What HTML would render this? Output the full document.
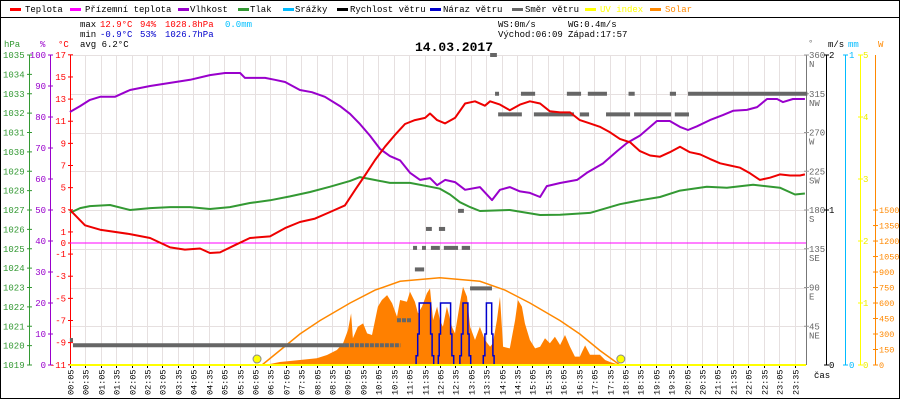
<!DOCTYPE html>
<html><head><meta charset="utf-8"><style>
body{margin:0;background:#fff}
svg{display:block;font-family:"Liberation Mono","DejaVu Sans Mono",monospace}
</style></head><body>
<svg id="chart" width="900" height="400" viewBox="0 0 900 400" xmlns="http://www.w3.org/2000/svg">
<rect x="0.5" y="0.5" width="899" height="398" fill="#fff" stroke="#000"/>
<line x1="0" y1="17.5" x2="900" y2="17.5" stroke="#000"/>
<g id="grid"></g>
<g id="legend" font-size="9"></g>
<g font-size="9">
<text x="80" y="27">max</text>
<text x="100" y="27" fill="#f00">12.9°C</text>
<text x="140" y="27" fill="#f00">94%</text>
<text x="165" y="27" fill="#f00">1028.8hPa</text>
<text x="225" y="27" fill="#00bfff">0.0mm</text>
<text x="80" y="37">min</text>
<text x="100" y="37" fill="#00c">-0.9°C</text>
<text x="140" y="37" fill="#00c">53%</text>
<text x="165" y="37" fill="#00c">1026.7hPa</text>
<text x="80" y="47">avg  6.2°C</text>
<text x="498" y="27">WS:0m/s</text>
<text x="568" y="27">WG:0.4m/s</text>
<text x="498" y="37">Východ:06:09</text>
<text x="568" y="37">Západ:17:57</text>
</g>
<text x="415" y="51" font-size="13" font-weight="bold">14.03.2017</text>
<g id="axes" font-size="9"></g>
<g id="series"></g>
</svg>
<script>
const tempTimes=[0.08,0.57,1.06,2.03,2.68,3.33,3.81,4.30,4.62,4.95,5.43,5.92,6.57,7.06,7.54,8.03,8.52,9.00,9.33,9.65,9.98,10.30,10.62,10.95,11.27,11.60,11.76,11.99,12.25,12.57,12.90,13.22,13.54,13.71,14.03,14.35,14.68,15.00,15.33,15.65,15.98,16.30,16.62,16.95,17.27,17.60,17.92,18.25,18.57,18.90,19.22,19.54,19.87,20.19,20.52,20.84,21.17,21.49,21.82,22.14,22.46,22.79,23.11,23.44,23.76,23.92];
const tempVals=[3.0,1.6,1.2,0.8,0.45,-0.4,-0.6,-0.5,-0.9,-0.85,-0.2,0.45,0.6,1.35,1.9,2.2,2.8,3.4,4.8,6.1,7.5,8.7,9.75,10.75,11.1,11.3,11.7,11.1,10.8,11.3,12.6,12.8,12.4,12.8,12.5,12.0,12.5,12.8,12.6,11.9,11.8,11.8,11.1,10.8,10.5,10.0,9.4,9.1,8.3,7.9,7.8,8.2,8.7,8.2,8.0,7.6,7.2,7.0,6.8,6.3,5.7,5.9,6.2,6.1,6.1,6.2];
const humTimes=[0.08,0.41,0.73,1.06,1.54,2.03,2.68,3.33,3.98,4.62,5.11,5.60,5.76,6.41,6.73,7.06,7.54,7.93,8.35,8.84,9.17,9.49,9.81,10.14,10.46,10.79,11.11,11.44,11.76,11.99,12.25,12.57,12.90,13.38,13.77,14.03,14.35,14.68,15.00,15.33,15.55,15.98,16.53,16.85,17.37,17.83,18.15,18.57,18.90,19.12,19.54,19.87,20.13,20.42,20.84,21.26,21.59,22.04,22.37,22.69,23.02,23.21,23.53,23.92];
const humVals=[81.6,83.5,85.5,86.5,86.5,88.7,90,91,92,93.5,94.2,94.2,92.6,92.6,92,91.3,88.7,88,86.5,83.5,81,77.7,74,69.7,67.4,66,62,59.7,60.3,58,59.7,59,56.5,57.4,53.2,56.5,57.4,56,55.5,54.2,57.7,58.7,59.7,62,65,69,71.6,74,76.8,78.7,78.7,76.8,75.8,77,79,80.6,82,82.3,83.2,85.8,85.8,84.8,85.8,85.8];
const pressTimes=[0.08,0.41,0.73,1.38,2.03,2.68,3.33,3.98,4.62,5.27,5.92,6.57,7.22,7.87,8.52,9.17,9.49,9.81,10.46,11.11,11.76,12.08,12.41,12.73,13.06,13.38,14.35,15.33,15.98,16.95,17.92,18.57,19.22,19.87,20.74,21.39,22.24,23.11,23.60,23.92];
const pressVals=[1026.85,1027.1,1027.2,1027.26,1027.0,1027.1,1027.15,1027.15,1027.05,1027.15,1027.36,1027.5,1027.7,1027.93,1028.2,1028.5,1028.7,1028.6,1028.4,1028.4,1028.2,1028.1,1027.8,1027.4,1027.15,1026.95,1027.0,1026.74,1026.76,1026.85,1027.3,1027.5,1027.67,1028.0,1028.2,1028.15,1028.3,1028.15,1027.8,1027.85];
const solarTimes=[6.31,6.57,6.89,7.22,7.54,8.09,8.42,8.74,8.94,9.10,9.20,9.26,9.42,9.59,9.72,9.88,10.07,10.20,10.37,10.53,10.69,10.79,11.01,11.11,11.27,11.37,11.50,11.66,11.76,11.86,11.99,12.08,12.18,12.31,12.47,12.57,12.73,12.83,12.96,13.06,13.22,13.38,13.54,13.71,13.80,13.93,14.03,14.13,14.35,14.52,14.61,14.74,14.84,15.00,15.17,15.33,15.49,15.65,15.81,15.98,16.14,16.30,16.46,16.62,16.79,16.95,17.27,17.44,17.60,17.92];
const solarVals=[0,10,29,39,48,65,97,145,210,339,500,258,371,403,306,290,565,629,677,597,468,629,613,710,613,500,565,694,742,435,565,435,371,565,371,306,597,758,661,371,242,371,242,177,210,435,661,177,161,435,629,565,403,242,161,177,258,210,274,194,290,177,81,81,190,100,100,48,29,0];
const clearSkyTimes=[6.31,6.89,7.54,8.19,9.17,9.98,10.79,12.08,13.38,14.19,15.00,15.98,16.62,17.27,17.92];
const clearSkyVals=[0,140,300,430,600,725,810,845,810,725,600,430,300,140,0];
const gustTimes=[11.28,11.31,11.36,11.41,11.78,11.83,11.88,11.99,12.03,12.06,12.10,12.43,12.47,12.53,12.55,12.70,12.73,12.78,12.83,12.99,13.03,13.08,13.10,13.46,13.49,13.54,13.59,13.76,13.80,13.84,13.87];
const gustVals=[0,0.06,0.2,0.4,0.2,0.06,0,0,0.06,0.2,0.4,0.2,0.06,0,0,0,0.06,0.2,0.4,0.2,0.06,0,0,0,0.06,0.2,0.4,0.2,0.06,0,0];
const windStart=[0.08,0.18,9.00,10.69,11.27,11.21,11.50,11.79,12.21,12.79,11.63,12.05,12.67,13.06,13.71,13.87,14.71,16.20,16.88,18.20,19.54,20.13,13.97,15.13,16.62,17.47,18.38,19.70];
const windEnd=[0.18,9.00,10.80,11.17,11.57,11.34,11.63,12.08,12.67,13.06,11.82,12.25,12.86,13.77,13.93,14.00,15.17,16.66,17.50,18.40,19.74,24.00,14.74,16.43,16.92,18.25,19.58,20.16];
const windDeg=[29,23,23,52,111,136,136,136,136,136,158,158,179,89,360,315,315,315,315,315,315,315,291,291,291,291,291,291];
const windDashed=[0,0,1,1,0,0,0,0,0,0,0,0,0,0,0,0,0,0,0,0,0,0,0,0,0,0,0,0];
const timeLabels=["00:05","00:35","01:05","01:35","02:05","02:35","03:05","03:35","04:05","04:35","05:05","05:35","06:05","06:35","07:05","07:35","08:05","08:35","09:05","09:35","10:05","10:35","11:05","11:35","12:05","12:35","13:05","13:35","14:05","14:35","15:05","15:35","16:05","16:35","17:05","17:35","18:05","18:35","19:05","19:35","20:05","20:35","21:05","21:35","22:05","22:35","23:05","23:35"];
const hpaTicks=[1035,1034,1033,1032,1031,1030,1029,1028,1027,1026,1025,1024,1023,1022,1021,1020,1019];
const humTicks=[100,90,80,70,60,50,40,30,20,10,0];
const tempTicks=[17,15,13,11,9,7,5,3,1,0,-1,-3,-5,-7,-9,-11];
const dirTicks=[360,315,270,225,180,135,90,45];
const dirNames=["N","NW","W","SW","S","SE","E","NE"];
const msTicks=[2,1,0];
const mmTicks=[1,0];
const uvTicks=[5,4,3,2,1,0];
const wTicks=[1500,1350,1200,1050,900,750,600,450,300,150,0];
const sunEvents=[6.15,17.95];

const NS='http://www.w3.org/2000/svg';
const X0=70,X1=806,Y0=55,Y1=365;
const xH=h=>X0+(h-5/60)*30.83;
const yT=c=>243-c*11.07;
const yHum=p=>Y1-p*3.1;
const yP=v=>Y1-(v-1019)*19.375;
const ySol=w=>Y1-w*0.1033;
const yDir=d=>Y1-d*0.8611;
const yMs=m=>Y1-m*155;
const yMm=m=>Y1-m*310;
const yUv=u=>Y1-u*62;
function el(tag,attrs,parent,txt){const e=document.createElementNS(NS,tag);for(const k in attrs)e.setAttribute(k,attrs[k]);if(txt!==undefined)e.textContent=txt;parent.appendChild(e);return e;}
const grid=document.getElementById('grid'),axes=document.getElementById('axes'),series=document.getElementById('series'),legend=document.getElementById('legend');

// grid
timeLabels.forEach((t,i)=>{const h=parseInt(t)+parseInt(t.slice(3))/60;const x=Math.round(xH(h))+0.5;
const l=el('line',{x1:x,y1:Y0,x2:x,y2:Y1,stroke:'#e6e0e0'},grid);


const tk=el('line',{x1:x,y1:Y1,x2:x,y2:Y1+3,stroke:'#000'},axes);


const tx=el('text',{x:0,y:0,transform:`translate(${x+3},395) rotate(-90)`,'font-size':'8.5'},axes,t);


});
dirTicks.forEach(d=>{const y=Math.round(yDir(d))+0.5;const l=el('line',{x1:X0,y1:y,x2:X1,y2:y,stroke:'#e6e0e0'},grid);

});

// legend
const leg=[["Teplota","#f00",10,25],["Přízemní teplota","#f0f",70,85],["Vlhkost","#90c",178,190],["Tlak","#393",238,250],["Srážky","#0bf",283,295],["Rychlost větru","#000",337,350],["Náraz větru","#00c",430,443],["Směr větru","#666",512,525],["UV index","#ff0",585,600],["Solar","#f80",650,665]];
leg.forEach(([n,c,dx,tx])=>{const g=el('g',{},legend);


el('rect',{x:dx,y:8,width:11,height:3,fill:c},g);
el('text',{x:tx,y:12,fill:(c=="#f80"||c=="#ff0")?c:'#000'},g,n);});

// left axes
function axisLine(x,c,name){const l=el('line',{x1:x,y1:Y0,x2:x,y2:Y1,stroke:c},axes);}
axisLine(29.5,'#393','hpa-axis');axisLine(50.5,'#90c','humidity-axis');axisLine(70.5,'#f00','temp-axis');
el('text',{x:4,y:47,fill:'#393'},axes,'hPa');el('text',{x:40,y:47,fill:'#90c'},axes,'%');el('text',{x:58,y:47,fill:'#f00'},axes,'°C');
hpaTicks.forEach(v=>{const y=yP(v);el('line',{x1:27,y1:y,x2:32,y2:y,stroke:'#393'},axes);const t=el('text',{x:3,y:y+3,fill:'#393'},axes,v);

});
humTicks.forEach(v=>{const y=yHum(v);el('line',{x1:48,y1:y,x2:53,y2:y,stroke:'#90c'},axes);const t=el('text',{x:46,y:y+3,fill:'#90c','text-anchor':'end'},axes,v);

});
tempTicks.forEach(v=>{const y=yT(v);el('line',{x1:68,y1:y,x2:73,y2:y,stroke:'#f00'},axes);const t=el('text',{x:66,y:y+3,fill:'#f00','text-anchor':'end'},axes,v);

});

// right axes
axisLine(806.5,'#777','direction-axis');axisLine(826.5,'#000','wind-speed-axis');axisLine(845.5,'#0bf','rain-axis');axisLine(860.5,'#ff0','uv-axis');axisLine(875.5,'#f80','solar-axis');
el('text',{x:808,y:46,fill:'#777'},axes,'°');el('text',{x:828,y:47},axes,'m/s');el('text',{x:848,y:47,fill:'#0bf'},axes,'mm');el('text',{x:878,y:47,fill:'#f80'},axes,'W');
dirTicks.forEach((d,i)=>{const y=yDir(d);el('line',{x1:804,y1:y,x2:809,y2:y,stroke:'#999'},axes);const t=el('text',{x:809,y:y+3,fill:'#666'},axes,d);


el('text',{x:809,y:y+12,fill:'#666'},axes,dirNames[i]);});
msTicks.forEach(v=>{const y=yMs(v);el('line',{x1:824,y1:y,x2:829,y2:y,stroke:'#000'},axes);el('text',{x:829,y:y+3},axes,v);});
mmTicks.forEach(v=>{const y=yMm(v);el('line',{x1:843,y1:y,x2:848,y2:y,stroke:'#0bf'},axes);el('text',{x:849,y:y+3,fill:'#0bf'},axes,v);});
uvTicks.forEach(v=>{const y=yUv(v);el('line',{x1:858,y1:y,x2:863,y2:y,stroke:'#ff0'},axes);el('text',{x:863,y:y+3,fill:'#ee0'},axes,v);});
wTicks.forEach(v=>{const y=ySol(v);el('line',{x1:873,y1:y,x2:878,y2:y,stroke:'#f80'},axes);el('text',{x:879,y:y+3,fill:'#f80','font-size':'8.5'},axes,v);});
el('text',{x:814,y:378},axes,'čas');

// zero line
const z=el('line',{x1:X0,y1:yT(0),x2:X1,y2:yT(0),stroke:'#f0f'},series);



function pts(ts,vs,fx,fy){return ts.map((t,i)=>fx(t).toFixed(1)+','+fy(vs[i]).toFixed(1)).join(' ');}
// solar area
const sp=el('polygon',{points:xH(solarTimes[0])+','+Y1+' '+pts(solarTimes,solarVals,xH,ySol)+' '+xH(solarTimes[solarTimes.length-1])+','+Y1,fill:'#ff8000'},series);


const cs=el('polyline',{points:pts(clearSkyTimes,clearSkyVals,xH,ySol),fill:'none',stroke:'#f80','stroke-width':1.5},series);


// wind direction
windStart.forEach((s,i)=>{const y=yDir(windDeg[i]);const a={x1:xH(s),y1:y,x2:xH(windEnd[i]),y2:y,stroke:'#666','stroke-width':4};if(windDashed[i])a['stroke-dasharray']='4,1';const l=el('line',a,series);

});
// lines
[[humTimes,humVals,yHum,'#90c','humidity-line'],[pressTimes,pressVals,yP,'#393','pressure-line'],[tempTimes,tempVals,yT,'#e00','temperature-line']].forEach(([t,v,fy,c,n])=>{const l=el('polyline',{points:pts(t,v,xH,fy),fill:'none',stroke:c,'stroke-width':2,'stroke-linejoin':'round'},series);

});
// gust step line
let gd='';gustTimes.forEach((t,i)=>{const x=xH(t).toFixed(1),y=yMs(gustVals[i]).toFixed(1);if(i==0)gd+='M'+x+','+y;else gd+=' V'+yMs(gustVals[i-1]).toFixed(1)+' H'+x+' V'+y;});
const gl=el('path',{d:gd,fill:'none',stroke:'#00c','stroke-width':1.5},series);


// uv baseline
const uv=el('line',{x1:X0,y1:Y1,x2:X1,y2:Y1,stroke:'#ff0','stroke-width':2},series);


sunEvents.forEach(h=>{const c=el('circle',{cx:xH(h),cy:359,r:4,fill:'#ff0',stroke:'#888'},series);

});
</script>
</body></html>
